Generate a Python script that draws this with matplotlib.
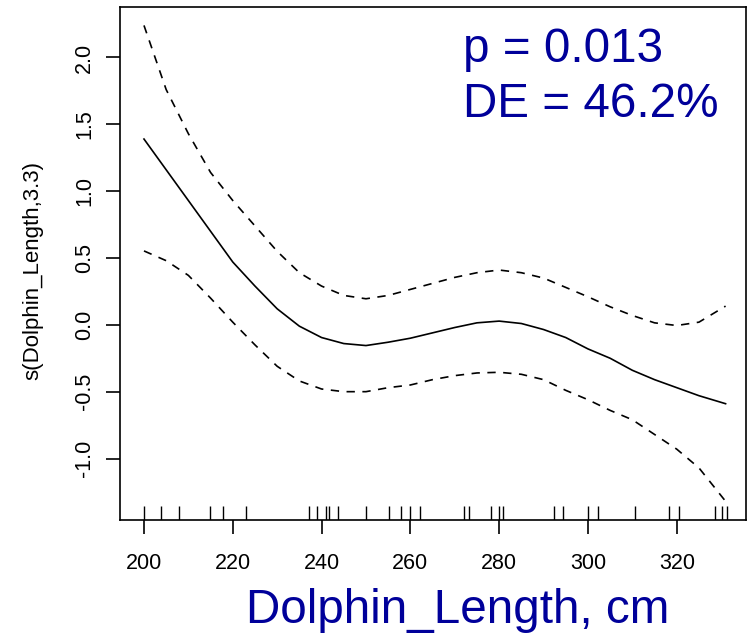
import matplotlib
matplotlib.use("Agg")
import matplotlib.pyplot as plt
from matplotlib.transforms import blended_transform_factory

# ---- data ----
x_vals = [200, 205, 210, 215, 220, 225, 230, 235, 240, 245, 250, 255, 260, 265,
          270, 275, 280, 285, 290, 295, 300, 305, 310, 315, 320, 325, 331]
fit = [1.39, 1.16, 0.93, 0.70, 0.47, 0.29, 0.12, -0.01, -0.095, -0.14, -0.155, -0.13,
       -0.10, -0.06, -0.02, 0.015, 0.028, 0.01, -0.035, -0.095, -0.18, -0.25, -0.34,
       -0.41, -0.47, -0.53, -0.59]
upper = [2.24, 1.76, 1.43, 1.14, 0.93, 0.74, 0.55, 0.39, 0.29, 0.22, 0.195, 0.22,
         0.265, 0.31, 0.355, 0.39, 0.41, 0.39, 0.35, 0.28, 0.21, 0.135, 0.07, 0.015,
         -0.005, 0.02, 0.14]
lower = [0.553, 0.48, 0.37, 0.20, 0.02, -0.15, -0.31, -0.42, -0.48, -0.50, -0.50,
         -0.47, -0.45, -0.41, -0.38, -0.36, -0.355, -0.37, -0.41, -0.49, -0.56, -0.64,
         -0.71, -0.82, -0.93, -1.07, -1.32]
rug = [200.0, 203.9, 207.8, 214.8, 217.9, 222.9, 237.2, 239.0, 241.0, 241.7, 243.8,
       250.1, 255.3, 258.0, 259.9, 262.1, 272.1, 273.2, 278.2, 280.0, 280.9, 292.3,
       294.3, 300.0, 302.3, 310.5, 318.2, 320.4, 328.6, 330.3, 331.3]
x_ticks = [200, 220, 240, 260, 280, 300, 320]
y_ticks = [-1.0, -0.5, 0.0, 0.5, 1.0, 1.5, 2.0]
y_label = "s(Dolphin_Length,3.3)"
x_label = "Dolphin_Length, cm"
stats_lines = ["p = 0.013", "DE = 46.2%"]

# ---- style ----
plt.rcParams['font.family'] = ['Liberation Sans', 'DejaVu Sans']
blue = '#00009A'
W, H = 750, 633
fig = plt.figure(figsize=(W / 100, H / 100), dpi=100)
ax = fig.add_axes([120 / W, 1 - 520 / H, (746 - 120) / W, (520 - 6.7) / H])

ax.plot(x_vals, fit, color='black', lw=1.2)
ax.plot(x_vals, upper, color='black', lw=1.2, dashes=(5, 4.5))
ax.plot(x_vals, lower, color='black', lw=1.2, dashes=(5, 4.5))
ax.vlines(rug, 0, 0.028, colors='black', lw=1.0,
          transform=blended_transform_factory(ax.transData, ax.transAxes))

ax.set_xlim(194.6, 335.6)
ax.set_ylim(-1.46, 2.38)
ax.set_xticks(x_ticks)
ax.set_xticklabels([str(v) for v in x_ticks])
ax.set_yticks(y_ticks)
ax.set_yticklabels([f"{v:.1f}" for v in y_ticks], rotation=90, va='center')

for s in ax.spines.values():
    s.set_linewidth(1.2)
ax.tick_params(axis='both', direction='out', length=10, width=1.2, labelsize=15.5)
ax.tick_params(axis='x', pad=14)
ax.tick_params(axis='y', pad=8)

fig.text(33 / W, 1 - 270 / H, y_label, rotation=90, ha='center', va='center', fontsize=16)
fig.text(457.5 / W, 1 - 623 / H, x_label, ha='center', va='baseline', fontsize=34.3, color=blue)
fig.text(463 / W, 1 - 61.7 / H, stats_lines[0], ha='left', va='baseline', fontsize=34.3, color=blue)
fig.text(463 / W, 1 - 116.7 / H, stats_lines[1], ha='left', va='baseline', fontsize=34.3, color=blue)

fig.savefig('out.png', dpi=100)
